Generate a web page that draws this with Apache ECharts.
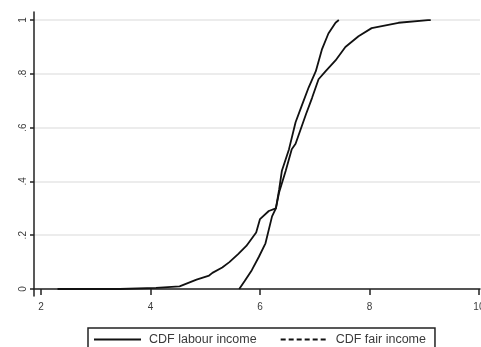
<!DOCTYPE html>
<html>
<head>
<meta charset="utf-8">
<script src="https://cdn.jsdelivr.net/npm/echarts@6/dist/echarts.min.js"></script>
<style>
  html, body { margin: 0; padding: 0; background: #fff; }
  #chart { width: 481px; height: 347px; }
</style>
</head>
<body>
<div id="chart"></div>
<script>
const labourX = [2.3, 3.44, 4.1, 4.53, 4.84, 5.07, 5.13, 5.31, 5.44, 5.6, 5.75, 5.93, 6.0, 6.16, 6.29, 6.35, 6.47, 6.58, 6.65, 6.84, 6.95, 7.07, 7.2, 7.38, 7.56, 7.8, 8.04, 8.53, 9.07, 9.12];
const labourY = [0, 0, 0.004, 0.01, 0.035, 0.05, 0.06, 0.08, 0.1, 0.13, 0.16, 0.21, 0.26, 0.29, 0.30, 0.36, 0.44, 0.52, 0.54, 0.65, 0.71, 0.78, 0.81, 0.85, 0.9, 0.94, 0.97, 0.99, 1.0, 1.0];
const fairX = [5.62, 5.72, 5.85, 5.98, 6.1, 6.22, 6.29, 6.35, 6.4, 6.53, 6.65, 6.76, 6.89, 7.02, 7.13, 7.25, 7.38, 7.44];
const fairY = [0, 0.03, 0.07, 0.12, 0.17, 0.27, 0.30, 0.37, 0.44, 0.52, 0.62, 0.68, 0.75, 0.81, 0.89, 0.95, 0.99, 1.0];
const xTicks = [2, 4, 6, 8, 10];
const yTicks = [0, 0.2, 0.4, 0.6, 0.8, 1];
const seriesNames = ["CDF labour income", "CDF fair income"];

const zip = (xs, ys) => xs.map((x, i) => [x, ys[i]]);
const txt = "#3a3a3a";

const chart = echarts.init(document.getElementById("chart"));
chart.setOption({
  animation: false,
  backgroundColor: "#fff",
  grid: { left: 34, right: 1, top: 12, bottom: 51, outerBoundsMode: "none", containLabel: false },
  xAxis: {
    type: "value",
    min: 1.87,
    max: 10.02,
    axisLine: { lineStyle: { color: "#222", width: 1.5 } },
    axisTick: { customValues: xTicks, length: 6, lineStyle: { color: "#222", width: 1.5 } },
    axisLabel: { customValues: xTicks, color: txt, fontSize: 10, fontFamily: "Liberation Sans", margin: 6 },
    splitLine: { show: false }
  },
  yAxis: {
    type: "value",
    min: -0.026,
    max: 1.03,
    axisLine: { show: true, lineStyle: { color: "#222", width: 1.5 } },
    axisTick: { show: true, customValues: yTicks, length: 4, lineStyle: { color: "#222", width: 1.5 } },
    axisLabel: {
      customValues: yTicks, rotate: 90, color: txt, fontSize: 10, fontFamily: "Liberation Sans", margin: 6,
      formatter: v => (v === 0 || v === 1) ? String(v) : String(v).replace(/^0/, "")
    },
    splitLine: { show: true, lineStyle: { color: "#e6e6e6", width: 1.5 } }
  },
  legend: {
    show: true,
    left: 88,
    top: 328,
    padding: [5, 9, 5, 5],
    borderColor: "#222",
    borderWidth: 1.5,
    itemWidth: 47,
    itemHeight: 10,
    itemGap: 23,
    itemStyle: { color: "transparent", borderWidth: 0 },
    textStyle: { color: txt, fontSize: 12.5, fontFamily: "Liberation Sans", padding: [0, 0, 0, 3] },
    data: [
      { name: seriesNames[0] },
      { name: seriesNames[1], lineStyle: { type: [5, 3] } }
    ]
  },
  series: [
    {
      name: seriesNames[0], type: "line", symbol: "none",
      data: zip(labourX, labourY),
      lineStyle: { color: "#111", width: 1.8 }, itemStyle: { color: "#111" }
    },
    {
      name: seriesNames[1], type: "line", symbol: "none",
      data: zip(fairX, fairY),
      lineStyle: { color: "#111", width: 1.8 }, itemStyle: { color: "#111" }
    }
  ]
});
</script>
</body>
</html>
